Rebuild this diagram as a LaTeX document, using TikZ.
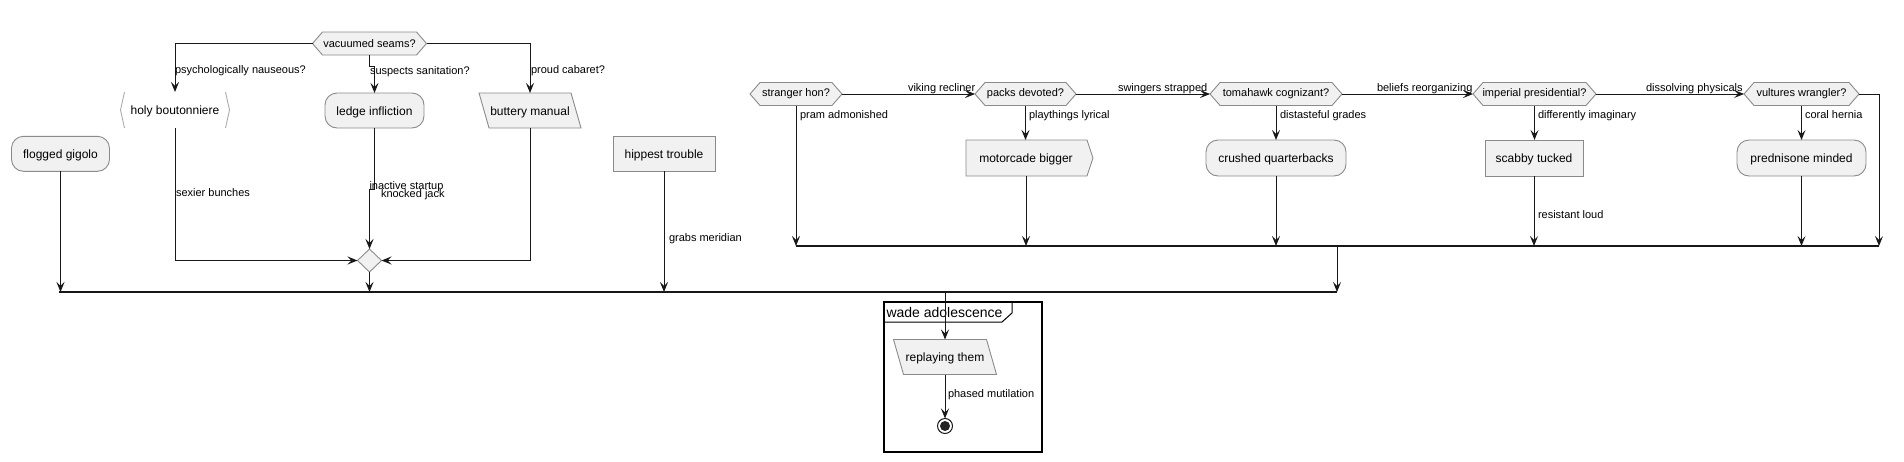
\documentclass[tikz,border=0pt]{standalone}
\usepackage{fontspec}
\setmainfont{Liberation Sans}
\usetikzlibrary{arrows.meta}
\definecolor{nfill}{HTML}{F1F1F1}
\definecolor{bord}{HTML}{181818}
\definecolor{sbord}{HTML}{8A8A8A}
\definecolor{lbord}{HTML}{ABABAB}
\newcommand\hexnode[5]{%
  \path[shapeline] ({#2-#4},#3) -- ({#2-#4+10},{#3-11.5}) -- ({#2+#4-10},{#3-11.5}) -- ({#2+#4},#3) -- ({#2+#4-10},{#3+11.5}) -- ({#2-#4+10},{#3+11.5}) -- cycle;
  \node[hexghost, minimum width={2*#4}] (#1) at (#2,#3) {#5};}
\newcommand\parnode[5]{%
  \path[shapeline] ({#2-#4-5},{#3-17.5}) -- ({#2+#4-5},{#3-17.5}) -- ({#2+#4+5},{#3+17.5}) -- ({#2-#4+5},{#3+17.5}) -- cycle;
  \node[ghost, minimum width={2*#4}] (#1) at (#2,#3) {#5};}
\begin{document}
\begin{tikzpicture}[x=1pt,y=-1pt,
  every node/.style={inner sep=0pt, outer sep=0pt},
  nodetext/.style={font=\fontsize{12}{14}\selectfont, text=black, text height=9, text depth=0},
  box/.style={nodetext, draw=sbord, line width=0.9pt, fill=nfill, minimum height=35},
  rbox/.style={box, rounded corners=12},
  ghost/.style={nodetext, minimum height=35},
  hexghost/.style={font=\fontsize{11}{13}\selectfont, minimum height=23},
  shapeline/.style={draw=sbord, line width=0.9pt, fill=nfill},
  lbl/.style={font=\fontsize{11}{13}\selectfont, anchor=base west},
  flow/.style={draw=bord, line width=1pt, -{Stealth[length=10pt,width=8pt,inset=4pt]}},
  bar/.style={draw=bord, line width=1.6pt},
]
\useasboundingbox (0,0) rectangle (1904,461);

% left group
\hexnode{vac}{369.5}{43.5}{57}{vacuumed seams?}
\node[ghost, minimum width=109, minimum height=36] (holy) at (175,110) {holy boutonniere};
\draw[draw=lbord, line width=0.9pt] ([xshift=4]holy.north west) -- (holy.west) -- ([xshift=4]holy.south west);
\draw[draw=lbord, line width=0.9pt] ([xshift=-4]holy.north east) -- (holy.east) -- ([xshift=-4]holy.south east);
\node[rbox, minimum width=99] (ledge) at (374.5,110.5) {ledge infliction};
\parnode{butt}{530}{110.5}{46}{buttery manual}
\node[rbox, minimum width=98] (flog) at (60.5,153.8) {flogged gigolo};
\path[shapeline] (357.5,260.5) -- (369.5,249) -- (381.5,260.5) -- (369.5,272) -- cycle;
\node[minimum width=24, minimum height=23] (mrg) at (369.5,260.5) {};
\node[box, minimum width=102] (hip) at (664,153.5) {hippest trouble};

% right group
\hexnode{str}{796}{94}{46}{stranger hon?}
\hexnode{pack}{1025.5}{94}{50.5}{packs devoted?}
\hexnode{tom}{1276}{94}{66}{tomahawk cognizant?}
\hexnode{imp}{1534.5}{94}{61.5}{imperial presidential?}
\hexnode{vul}{1801.5}{94}{57.5}{vultures wrangler?}
\path[shapeline] (966,140) -- (1087,140) -- (1093,158) -- (1087,176) -- (966,176) -- cycle;
\node[ghost, minimum width=120, minimum height=36] (mot) at (1026,158) {motorcade bigger};
\node[rbox, minimum width=140, minimum height=36] (crush) at (1276,158) {crushed quarterbacks};
\node[box, minimum width=98, minimum height=36] (scab) at (1534,158) {scabby tucked};
\node[rbox, minimum width=129, minimum height=36] (pred) at (1801.5,158) {prednisone minded};

% frame
\node[draw=black, line width=1.5pt, minimum width=158, minimum height=150, anchor=north west] (frm) at (884,302) {};
\draw[black, line width=1pt] (884,322) -- (1002,322) -- (1012,313) -- (1012,302);
\node[font=\fontsize{14}{16}\selectfont, anchor=base west] (ftitle) at (886.5,317) {wade adolescence};
\parnode{rep}{945}{357}{46.5}{replaying them}
\node[circle, draw=bord, line width=1pt, fill=white, minimum size=15] (fin) at (945,426) {};
\node[circle, fill=bord!95, minimum size=10] (fincore) at (fin.center) {};

% bars
\coordinate (b1L) at (59,292);
\coordinate (b1R) at (1337,292);
\coordinate (b2L) at (796,246);
\coordinate (b2R) at (1879,246);
\coordinate (b2drop) at (1337,246);
\coordinate (b1drop) at (945,292);
\draw[bar] (b1L) -- (b1R);
\draw[bar] (b2L) -- (b2R);

% connectors left
\draw[flow] (vac.west) -| (holy.north);
\node[lbl] at (175,73) {psychologically nauseous?};
\draw[flow] (vac.south) -- ++(0,11.5) -| (ledge.north);
\node[lbl] at (370,74) {suspects sanitation?};
\draw[flow] (vac.east) -| (butt.north);
\node[lbl] at (531,73) {proud cabaret?};
\draw[flow] (holy.south) |- (mrg.west);
\node[lbl] at (176,196) {sexier bunches};
\draw[flow] (ledge.south) -- ++(0,61) -| (mrg.north);
\node[lbl] at (369.5,189) {inactive startup};
\node[lbl] at (381,197) {knocked jack};
\draw[flow] (butt.south) |- (mrg.east);
\draw[flow] (mrg.south) -- (mrg.south |- b1L);
\draw[flow] (flog.south) -- (flog.south |- b1L);
\draw[flow] (hip.south) -- (hip.south |- b1L);
\node[lbl] at (669,241) {grabs meridian};

% connectors right
\draw[flow] (str.east) -- (pack.west);
\node[lbl] at (908,91) {viking recliner};
\draw[flow] (str.south) -- (str.south |- b2L);
\node[lbl] at (800,118) {pram admonished};
\draw[flow] (pack.east) -- (tom.west);
\node[lbl] at (1118,91) {swingers strapped};
\draw[flow] (pack.south) -- (pack.south |- mot.north);
\node[lbl] at (1029,118) {playthings lyrical};
\draw[flow] (mot.south) -- (mot.south |- b2L);
\draw[flow] (tom.east) -- (imp.west);
\node[lbl] at (1377,91) {beliefs reorganizing};
\draw[flow] (tom.south) -- (crush.north);
\node[lbl] at (1280,118) {distasteful grades};
\draw[flow] (crush.south) -- (crush.south |- b2L);
\draw[flow] (imp.east) -- (vul.west);
\node[lbl] at (1646,91) {dissolving physicals};
\draw[flow] (imp.south) -- (imp.south |- scab.north);
\node[lbl] at (1538,118) {differently imaginary};
\draw[flow] (scab.south) -- (scab.south |- b2L);
\node[lbl] at (1538,218) {resistant loud};
\draw[flow] (vul.south) -- (pred.north);
\node[lbl] at (1805,118) {coral hernia};
\draw[flow] (pred.south) -- (pred.south |- b2L);
\draw[flow] (vul.east) -| (b2R);
\draw[flow] (b2drop) -- (b1R);

% bottom
\draw[flow] (b1drop) -- (rep.north);
\draw[flow] (rep.south) -- (fin.north);
\node[lbl] at (948,397) {phased mutilation};
\end{tikzpicture}
\end{document}
